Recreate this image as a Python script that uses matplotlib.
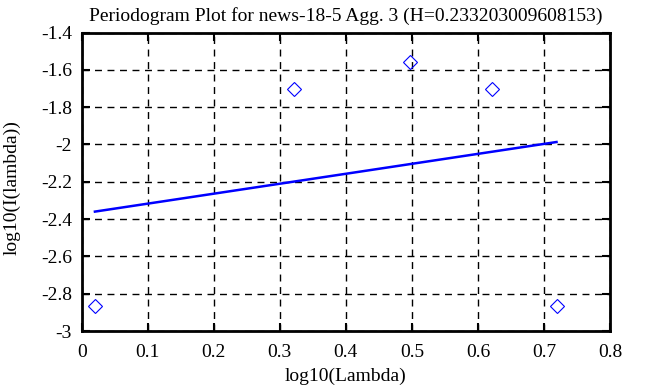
import matplotlib
matplotlib.use("Agg")
import matplotlib.pyplot as plt

# periodogram points (log10 of frequency vs log10 of power)
log_lambda = [0.020, 0.321, 0.497, 0.622, 0.719]
log_I = [-2.866, -1.703, -1.558, -1.703, -2.866]

# least squares fit line end points
fit_x = [0.020, 0.719]
fit_y = [-2.360, -1.987]

xticks = [0, 0.1, 0.2, 0.3, 0.4, 0.5, 0.6, 0.7, 0.8]
yticks = [-3, -2.8, -2.6, -2.4, -2.2, -2, -1.8, -1.6, -1.4]

plt.rcParams['font.family'] = ['Liberation Serif', 'DejaVu Serif']
plt.rcParams['font.size'] = 14

fig = plt.figure(figsize=(6.47, 3.87), dpi=100)
ax = fig.add_axes([0.1263, 0.1447, 0.8165, 0.7713])

ax.plot(log_lambda, log_I, linestyle='none', marker='D', markersize=7.5,
        markerfacecolor='none', markeredgecolor='blue', markeredgewidth=0.8)
ax.plot(fit_x, fit_y, color='blue', linewidth=1.8)

ax.set_xlim(0, 0.8)
ax.set_ylim(-3, -1.4)
ax.set_xticks(xticks)
ax.set_yticks(yticks)
ax.set_xticklabels(['0', '0.1', '0.2', '0.3', '0.4', '0.5', '0.6', '0.7', '0.8'])
ax.set_yticklabels(['-3', '-2.8', '-2.6', '-2.4', '-2.2', '-2', '-1.8', '-1.6', '-1.4'])

ax.grid(True, color='black', linestyle=(0, (5, 4)), linewidth=1)
ax.tick_params(direction='in', length=6, width=1.5, top=True, right=True)
ax.tick_params(axis='x', pad=9)
ax.tick_params(axis='y', pad=7)
for s in ax.spines.values():
    s.set_linewidth(2)

ax.set_xlabel('log10(Lambda)', labelpad=5)
ax.set_ylabel('log10(I(lambda))')
ax.yaxis.set_label_coords(-0.116, 0.48)
ax.set_title('Periodogram Plot for news-18-5 Agg. 3 (H=0.233203009608153)',
             fontsize=14, pad=8)

fig.savefig('out.png', dpi=100)
